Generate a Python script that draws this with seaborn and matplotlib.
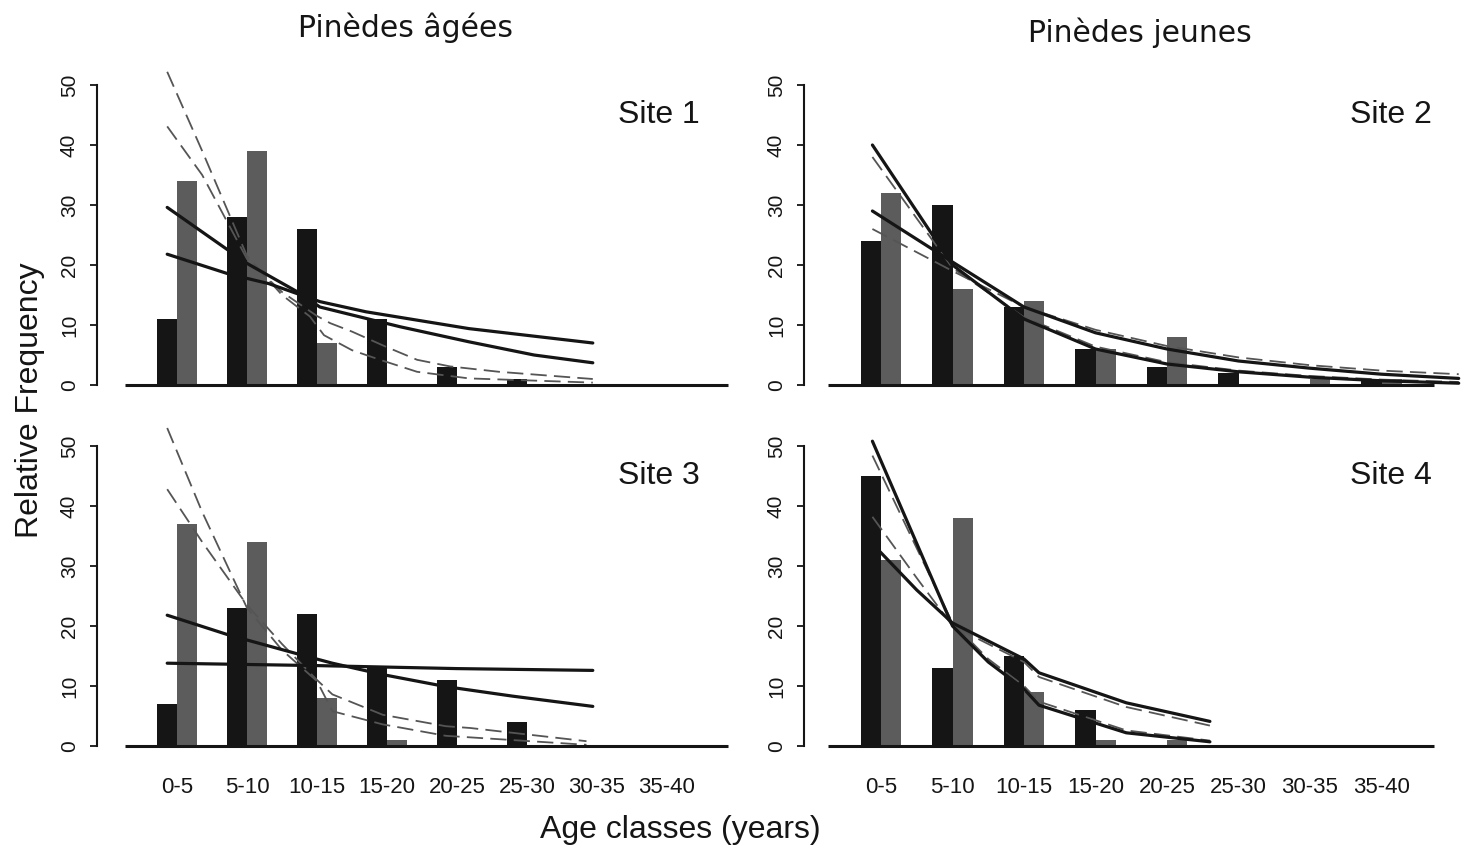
import numpy as np
import pandas as pd
import seaborn as sns
import matplotlib.pyplot as plt

# Age classes shown on the x axis
ages = ['0-5', '5-10', '10-15', '15-20', '20-25', '25-30', '30-35', '35-40']

# Bar heights (black = first series, grey = second series)
site1_black = [11, 28, 26, 11, 3, 1, 0, 0]
site1_gray = [34, 39, 7, 0, 0, 0, 0, 0]
site2_black = [24, 30, 13, 6, 3, 2, 0, 1]
site2_gray = [32, 16, 14, 6, 8, 0, 1, 1]
site3_black = [7, 23, 22, 13, 11, 4, 0, 0]
site3_gray = [37, 34, 8, 1, 0, 0, 0, 0]
site4_black = [45, 13, 15, 6, 0, 0, 0, 0]
site4_gray = [31, 38, 9, 1, 1, 0, 0, 0]

# Fitted curves (x in age-class units)
s1_solid_a = ([-0.14, 0.74, 1.31, 2.04, 2.7, 4.17, 5.94], [21.8, 18.5, 16.9, 13.9, 12.2, 9.4, 7.0])
s1_solid_b = ([-0.14, 0.74, 1.01, 1.77, 2.04, 2.7, 3.19, 4.17, 5.1, 5.94],
              [29.6, 22.4, 20.2, 15.2, 13.0, 11.1, 9.7, 7.2, 5.0, 3.7])
s1_dash_a = ([-0.14, 0.36, 1.0, 1.5, 1.9, 2.1, 2.5, 2.9, 3.43, 4.17, 5.94],
             [52.2, 39.0, 21.5, 15.0, 11.4, 8.3, 5.8, 4.2, 2.2, 1.1, 0.4])
s1_dash_b = ([-0.14, 0.36, 1.0, 1.5, 2.0, 2.19, 2.5, 2.98, 3.43, 3.9, 4.6, 5.94],
             [43.1, 35.0, 21.0, 15.5, 11.5, 10.3, 8.9, 6.4, 4.2, 3.1, 2.2, 1.0])

s2_solid_a = ([-0.12, 1.0, 2.0, 3.0, 4.0, 5.0, 6.0, 7.0, 8.08], [29.0, 20.5, 13.0, 8.7, 6.0, 4.0, 2.8, 1.8, 1.1])
s2_solid_b = ([-0.12, 1.0, 2.0, 3.0, 4.0, 5.0, 6.0, 7.0, 8.08], [40.0, 20.0, 11.0, 6.0, 3.5, 2.2, 1.3, 0.7, 0.3])
s2_dash_a = ([-0.12, 1.0, 2.0, 3.0, 4.0, 5.0, 6.0, 7.0, 8.08], [26.0, 19.0, 13.0, 9.2, 6.5, 4.6, 3.3, 2.4, 1.8])
s2_dash_b = ([-0.12, 1.0, 2.0, 3.0, 4.0, 5.0, 6.0, 7.0, 8.08], [38.0, 19.5, 11.3, 6.4, 3.8, 2.4, 1.5, 0.9, 0.5])

s3_solid_a = ([-0.14, 2.0, 4.0, 5.94], [13.8, 13.4, 12.9, 12.6])
s3_solid_b = ([-0.14, 0.74, 1.77, 2.22, 2.94, 3.84, 4.8, 5.94], [21.8, 18.5, 15.2, 13.8, 11.9, 9.9, 8.3, 6.6])
s3_dash_a = ([-0.14, 0.36, 1.0, 1.5, 2.0, 2.22, 2.94, 3.84, 5.85], [53.0, 39.0, 23.0, 16.0, 10.8, 5.8, 3.6, 1.7, 0.2])
s3_dash_b = ([-0.14, 0.36, 1.0, 1.5, 2.0, 2.22, 2.94, 3.84, 4.19, 5.85],
             [42.8, 34.0, 23.5, 17.0, 11.0, 8.6, 5.2, 3.3, 3.0, 0.8])

s4_solid_a = ([-0.12, 1.0, 1.5, 2.0, 2.21, 3.43, 4.6], [50.8, 20.0, 14.0, 9.5, 6.8, 2.2, 0.7])
s4_solid_b = ([-0.12, 0.5, 1.0, 1.5, 2.0, 2.21, 3.43, 4.6], [33.7, 26.0, 20.5, 17.5, 14.5, 12.2, 7.2, 4.1])
s4_dash_a = ([-0.12, 1.0, 1.5, 2.0, 2.21, 3.43, 4.6], [48.4, 20.5, 14.5, 10.0, 7.4, 2.6, 0.9])
s4_dash_b = ([-0.12, 0.5, 1.0, 1.5, 2.0, 2.21, 3.43, 4.6], [38.2, 28.0, 20.0, 17.0, 14.0, 11.5, 6.5, 3.4])

sns.set_style('white')
plt.rcParams['font.family'] = ['Liberation Sans', 'DejaVu Sans']

W, H = 1472, 851
fig = plt.figure(figsize=(W / 100, H / 100), dpi=100)


def px_axes(x0, y0, x1, y1):
    return fig.add_axes([x0 / W, 1 - y1 / H, (x1 - x0) / W, (y1 - y0) / H])


def draw_panel(ax, black, gray, solids, dashes, label, xlim, baseline, show_x):
    df = pd.DataFrame({'age': ages * 2, 'freq': black + gray,
                       'serie': ['a'] * len(ages) + ['b'] * len(ages)})
    sns.barplot(data=df, x='age', y='freq', hue='serie', order=ages, hue_order=['a', 'b'],
                palette={'a': '#151515', 'b': '#5c5c5c'}, width=0.56, saturation=1,
                errorbar=None, legend=False, linewidth=0, ax=ax)
    for xs, ys in dashes:
        ax.plot(xs, ys, color='#555555', lw=1.3, dashes=(9, 4))
    for xs, ys in solids:
        ax.plot(xs, ys, color='#151515', lw=2.3)
    ax.hlines(0, baseline[0], baseline[1], color='#151515', lw=2.2)

    ax.set_xlim(*xlim)
    ax.set_ylim(-10 / 6, 325 / 6)
    for s in ['top', 'right', 'bottom']:
        ax.spines[s].set_visible(False)
    ax.spines['left'].set_bounds(0, 50)
    ax.spines['left'].set_linewidth(1.5)
    ax.spines['left'].set_color('#151515')
    ax.set_yticks(range(0, 51, 10))
    ax.set_yticklabels([str(v) for v in range(0, 51, 10)], rotation=90, va='center')
    ax.tick_params(axis='y', direction='out', length=5, width=1.3, pad=8,
                   labelsize=15, colors='#151515', left=True)
    ax.tick_params(axis='x', length=0, pad=15, labelsize=16, colors='#151515')
    if not show_x:
        ax.set_xticklabels([])
    ax.set_xlabel('')
    ax.set_ylabel('')
    ax.text(xlim[1] - 0.5, 45, label, ha='right', va='center', fontsize=23, color='#151515')


left_xlim = ((97 - 177) / 70, (735 - 177) / 70)
right_xlim = ((804 - 881) / 71.5, (1468 - 881) / 71.5)

ax1 = px_axes(97, 60, 735, 395)
draw_panel(ax1, site1_black, site1_gray, [s1_solid_a, s1_solid_b], [s1_dash_a, s1_dash_b],
           'Site 1', left_xlim, (-0.74, 7.87), False)
ax2 = px_axes(804, 60, 1468, 395)
draw_panel(ax2, site2_black, site2_gray, [s2_solid_a, s2_solid_b], [s2_dash_a, s2_dash_b],
           'Site 2', right_xlim, (-0.74, 7.73), False)
ax3 = px_axes(97, 421, 735, 756)
draw_panel(ax3, site3_black, site3_gray, [s3_solid_a, s3_solid_b], [s3_dash_a, s3_dash_b],
           'Site 3', left_xlim, (-0.74, 7.87), True)
ax4 = px_axes(804, 421, 1468, 756)
draw_panel(ax4, site4_black, site4_gray, [s4_solid_a, s4_solid_b], [s4_dash_a, s4_dash_b],
           'Site 4', right_xlim, (-0.74, 7.73), True)

# Column titles and shared axis labels
fig.text(405 / W, 1 - 28 / H, 'Pinèdes âgées', ha='center', va='center',
         family='DejaVu Sans', fontsize=21.5, color='#151515')
fig.text(1140 / W, 1 - 33 / H, 'Pinèdes jeunes', ha='center', va='center',
         family='DejaVu Sans', fontsize=21.5, color='#151515')
fig.text(680 / W, 1 - 830 / H, 'Age classes (years)', ha='center', va='center',
         fontsize=23, color='#151515')
fig.text(30 / W, 1 - 400 / H, 'Relative Frequency', ha='center', va='center',
         rotation=90, fontsize=23, color='#151515')

fig.savefig('out.png', dpi=100)
